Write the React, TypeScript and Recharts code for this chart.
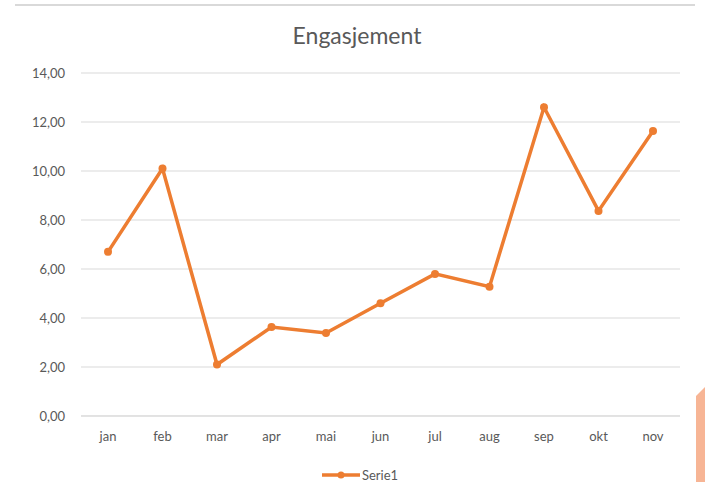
import React from 'react';
import { LineChart, Line, XAxis, YAxis, CartesianGrid, Legend } from 'recharts';

const months = ['jan', 'feb', 'mar', 'apr', 'mai', 'jun', 'jul', 'aug', 'sep', 'okt', 'nov'];
const serie1 = [6.7, 10.1, 2.1, 3.63, 3.39, 4.6, 5.8, 5.28, 12.6, 8.37, 11.63];
const yTicks = [0, 2, 4, 6, 8, 10, 12, 14];

const data = months.map((m, i) => ({ month: m, Serie1: serie1[i] }));

const ORANGE = '#ED7D31';
const TEXT = '#595959';
const FONT = 'Lato, "Open Sans", sans-serif';

const fmt = (v: number) => v.toFixed(2).replace('.', ',');

const LegendContent = () => (
  <div style={{ display: 'flex', justifyContent: 'center', alignItems: 'center', fontFamily: FONT, fontSize: 13, color: TEXT }}>
    <svg width={38} height={10} style={{ marginRight: 2 }}>
      <line x1={0} y1={5} x2={38} y2={5} stroke={ORANGE} strokeWidth={3.5} />
      <circle cx={19} cy={5} r={3.5} fill={ORANGE} />
    </svg>
    <span>Serie1</span>
  </div>
);

export default function App() {
  return (
    <div style={{ position: 'absolute', left: 0, top: 0, width: 705, height: 482, background: '#fff', overflow: 'hidden' }}>
      <div style={{ position: 'absolute', left: 15, top: 4, width: 680, height: 2, background: '#d9d9d9' }} />
      <div
        style={{
          position: 'absolute',
          left: 696,
          top: 384,
          width: 12,
          height: 100,
          background: '#F7B595',
          clipPath: 'polygon(0 12%, 100% 0, 100% 100%, 0 100%)',
        }}
      />
      <div
        style={{
          position: 'absolute',
          left: 0,
          top: 21,
          width: 714,
          textAlign: 'center',
          fontFamily: FONT,
          fontSize: 23,
          color: TEXT,
        }}
      >
        Engasjement
      </div>
      <LineChart width={705} height={482} data={data} margin={{ top: 73, right: 25, left: 0, bottom: 6 }}>
        <CartesianGrid vertical={false} stroke="#d9d9d9" strokeWidth={1} />
        <XAxis
          dataKey="month"
          padding={{ left: 27, right: 27 }}
          axisLine={{ stroke: '#d9d9d9' }}
          tickLine={false}
          tickSize={0}
          tickMargin={16}
          height={30}
          tick={{ fill: TEXT, fontSize: 13, fontFamily: FONT }}
        />
        <YAxis
          domain={[0, 14]}
          ticks={yTicks}
          tickFormatter={fmt}
          axisLine={false}
          tickLine={false}
          tickSize={0}
          tickMargin={16}
          width={81}
          tick={{ fill: TEXT, fontSize: 13, fontFamily: FONT }}
        />
        <Legend
          verticalAlign="bottom"
          height={30}
          content={<LegendContent />}
          wrapperStyle={{ top: 467, bottom: 'auto', left: 0, width: 720 }}
        />
        <Line
          type="linear"
          dataKey="Serie1"
          stroke={ORANGE}
          strokeWidth={3.5}
          dot={{ r: 4, fill: ORANGE, stroke: ORANGE, strokeWidth: 0 }}
          activeDot={false}
          isAnimationActive={false}
        />
      </LineChart>
    </div>
  );
}
